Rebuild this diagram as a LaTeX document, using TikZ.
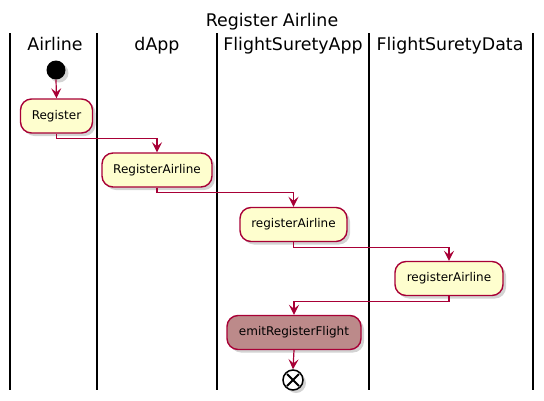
\documentclass[tikz,border=0pt]{standalone}
\usepackage{fontspec}
\setmainfont{DejaVu Sans}
\usetikzlibrary{arrows.meta,shadows}
\definecolor{pbord}{HTML}{A80036}
\definecolor{pfill}{HTML}{FEFECE}
\definecolor{pemit}{RGB}{188,138,138}
\begin{document}
\begin{tikzpicture}[x=1pt,y=-1pt,
  lane/.style={line width=2pt,black},
  hdr/.style={font=\fontsize{17.4pt}{21pt}\selectfont,inner sep=0pt,anchor=base},
  act/.style={draw=pbord,line width=1.4pt,fill=pfill,rounded corners=11pt,
    inner sep=0pt,minimum height=34pt,font=\fontsize{12pt}{14pt}\selectfont,
    drop shadow={shadow xshift=3pt,shadow yshift=-3pt,opacity=.35,fill=gray}},
  conn/.style={draw=pbord,line width=1.2pt,-{Stealth[length=10pt,width=10pt,inset=4pt]}},
  shad/.style={drop shadow={shadow xshift=3pt,shadow yshift=-3pt,opacity=.35,fill=gray}}
]
\useasboundingbox (0,0) rectangle (544,400);
% title
\node[hdr] (title) at (272,26) {Register Airline};
% lanes
\foreach \x [count=\i] in {10,97,217,369,533}{
  \draw[lane] (\x,33) -- (\x,390);
}
\node[hdr] (h1) at (55,50) {Airline};
\node[hdr] (h2) at (157,50) {dApp};
\node[hdr] (h3) at (293,50) {FlightSuretyApp};
\node[hdr] (h4) at (450,50) {FlightSuretyData};
% start
\node[circle,fill=black,minimum size=19pt,inner sep=0pt,shad] (start) at (56,70) {};
% activities
\node[act,minimum width=72pt] (reg) at (56.5,116) {Register};
\node[act,minimum width=110pt] (ra) at (157,170) {RegisterAirline};
\node[act,minimum width=107pt] (app) at (293.5,224.5) {registerAirline};
\node[act,minimum width=108pt] (data) at (449,278.5) {registerAirline};
\node[act,minimum width=134pt,fill=pemit] (emit) at (294,332.5) {emitRegisterFlight};
% end
\node[circle,draw=black,line width=1.5pt,fill=white,minimum size=20pt,inner sep=0pt,shad,
  path picture={\draw[line width=2pt] (path picture bounding box.center) +(-6,-6) -- +(6,6)
  (path picture bounding box.center) +(-6,6) -- +(6,-6);}] (end) at (293,380) {};
% connectors
\draw[conn] (start.south) -- (reg.north);
\draw[conn] (reg.south) -- ++(0,5) -| (ra.north);
\draw[conn] (ra.south) -- ++(0,5) -| (app.north);
\draw[conn] (app.south) -- ++(0,5) -| (data.north);
\draw[conn] (data.south) -- ++(0,5) -| (emit.north);
\draw[conn] (emit.south) -- (end.north);
\end{tikzpicture}
\end{document}
